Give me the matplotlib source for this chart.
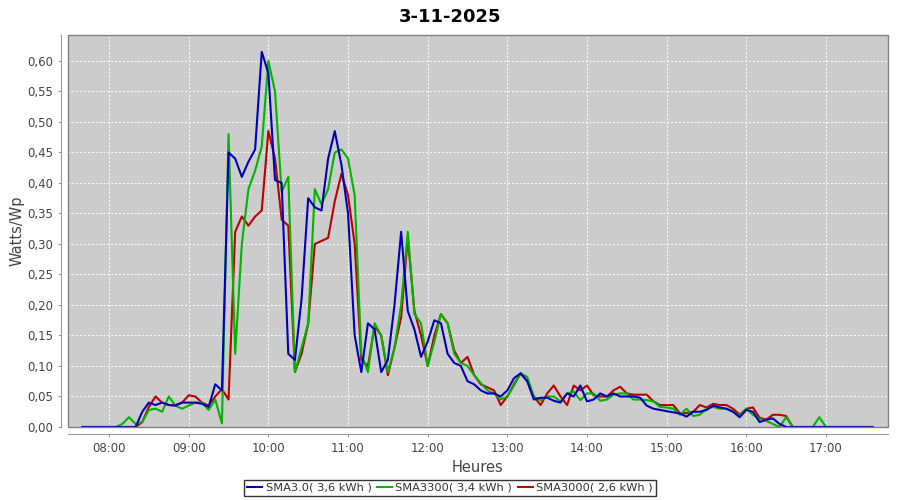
import matplotlib
matplotlib.use("Agg")
import matplotlib.pyplot as plt
import matplotlib.dates as mdates
from matplotlib.patches import Rectangle
from matplotlib.ticker import FuncFormatter, MultipleLocator
import pandas as pd

title = "3-11-2025"
series_names = ["SMA3.0( 3,6 kWh )", "SMA3300( 3,4 kWh )", "SMA3000( 2,6 kWh )"]
series_colors = ["#0000bb", "#00b400", "#bb0000"]

# 5 minute samples, 07:40 -> 17:35
times = pd.date_range("2025-11-03 07:40", "2025-11-03 17:35", freq="5min")

sma30 = [
    0, 0, 0, 0,
    0, 0, 0, 0, 0, 0.025, 0.04, 0.036, 0.04, 0.036, 0.035, 0.04,
    0.04, 0.04, 0.038, 0.033, 0.07, 0.06, 0.45, 0.44, 0.41, 0.435, 0.455, 0.615,
    0.58, 0.405, 0.40, 0.12, 0.11, 0.21, 0.375, 0.36, 0.355, 0.44, 0.485, 0.43,
    0.35, 0.15, 0.09, 0.17, 0.16, 0.09, 0.11, 0.20, 0.32, 0.19, 0.16, 0.115,
    0.14, 0.175, 0.17, 0.12, 0.105, 0.10, 0.075, 0.07, 0.06, 0.055, 0.055, 0.05,
    0.06, 0.08, 0.088, 0.075, 0.045, 0.048, 0.048, 0.043, 0.04, 0.055, 0.05, 0.068,
    0.042, 0.045, 0.055, 0.05, 0.055, 0.05, 0.05, 0.05, 0.048, 0.035, 0.03, 0.028,
    0.026, 0.024, 0.022, 0.017, 0.025, 0.025, 0.028, 0.035, 0.032, 0.03, 0.025, 0.016,
    0.028, 0.025, 0.008, 0.012, 0.014, 0.005, 0, 0, 0, 0, 0, 0,
    0, 0, 0, 0, 0, 0, 0, 0,
]
sma3300 = [
    0, 0, 0, 0,
    0, 0, 0.005, 0.016, 0.005, 0.008, 0.028, 0.03, 0.025, 0.05, 0.035, 0.03,
    0.035, 0.04, 0.04, 0.028, 0.045, 0.006, 0.48, 0.12, 0.30, 0.39, 0.42, 0.46,
    0.60, 0.55, 0.385, 0.41, 0.09, 0.13, 0.17, 0.39, 0.365, 0.39, 0.45, 0.455,
    0.44, 0.38, 0.12, 0.09, 0.17, 0.15, 0.09, 0.13, 0.20, 0.32, 0.185, 0.17,
    0.10, 0.14, 0.185, 0.17, 0.12, 0.105, 0.10, 0.085, 0.072, 0.06, 0.055, 0.045,
    0.05, 0.068, 0.088, 0.082, 0.05, 0.044, 0.05, 0.05, 0.042, 0.055, 0.058, 0.044,
    0.055, 0.055, 0.043, 0.045, 0.053, 0.055, 0.055, 0.045, 0.045, 0.044, 0.042, 0.033,
    0.032, 0.03, 0.02, 0.03, 0.018, 0.02, 0.03, 0.033, 0.03, 0.03, 0.025, 0.018,
    0.03, 0.02, 0.013, 0.01, 0.005, 0, 0.016, 0, 0, 0, 0, 0.016,
    0, 0, 0, 0, 0, 0, 0, 0,
]
sma3000 = [
    0, 0, 0, 0,
    0, 0, 0, 0, 0, 0.008, 0.033, 0.05, 0.04, 0.036, 0.036, 0.04,
    0.052, 0.05, 0.04, 0.035, 0.05, 0.062, 0.045, 0.32, 0.345, 0.33, 0.345, 0.355,
    0.485, 0.44, 0.34, 0.33, 0.09, 0.12, 0.17, 0.30, 0.305, 0.31, 0.37, 0.415,
    0.38, 0.30, 0.11, 0.10, 0.165, 0.15, 0.085, 0.13, 0.18, 0.31, 0.19, 0.15,
    0.10, 0.15, 0.185, 0.17, 0.125, 0.105, 0.115, 0.085, 0.07, 0.065, 0.06, 0.036,
    0.05, 0.07, 0.088, 0.075, 0.05, 0.036, 0.055, 0.068, 0.05, 0.036, 0.068, 0.06,
    0.068, 0.052, 0.05, 0.05, 0.06, 0.066, 0.055, 0.053, 0.053, 0.053, 0.042, 0.036,
    0.036, 0.036, 0.022, 0.023, 0.025, 0.036, 0.032, 0.038, 0.036, 0.036, 0.03, 0.02,
    0.03, 0.032, 0.015, 0.012, 0.02, 0.02, 0.018, 0, 0, 0, 0, 0,
    0, 0, 0, 0, 0, 0, 0, 0,
]

fig = plt.figure(figsize=(9, 5), dpi=100)
ax = fig.add_axes([0.0756, 0.146, 0.911, 0.784])
ax.set_facecolor("#cccccc")

# red drawn first, blue on top (like the original renderer)
values = [sma30, sma3300, sma3000]
lines = []
for i in [2, 1, 0]:
    ln, = ax.plot(times, values[i], color=series_colors[i], lw=1.5,
                  label=series_names[i], zorder=3 + (2 - i))
    lines.append((i, ln))
lines.sort()

ax.set_xlim(pd.Timestamp("2025-11-03 07:29:06"), pd.Timestamp("2025-11-03 17:46:40"))
ax.set_ylim(0, 0.6426)

ax.xaxis.set_major_locator(mdates.HourLocator(byhour=range(8, 18)))
ax.xaxis.set_major_formatter(mdates.DateFormatter("%H:%M"))
ax.yaxis.set_major_locator(MultipleLocator(0.05))
ax.yaxis.set_major_formatter(FuncFormatter(lambda v, p: ("%.2f" % v).replace(".", ",")))

ax.grid(True, color="white", linestyle=(0, (2, 2)), linewidth=0.7)
ax.set_axisbelow(True)

for s in ["top", "right"]:
    ax.spines[s].set_visible(False)
for s in ["left", "bottom"]:
    ax.spines[s].set_position(("outward", 5))
    ax.spines[s].set_color("#999999")
    ax.spines[s].set_linewidth(0.8)
ax.add_patch(Rectangle((0, 0), 1, 1, transform=ax.transAxes, fill=False,
                       edgecolor="#808080", linewidth=1.0, zorder=10, clip_on=False))

ax.tick_params(axis="both", colors="#999999", labelcolor="#444444", labelsize=8.5,
               length=2, width=0.8)

ax.set_xlabel("Heures", fontsize=10.5, color="#444444", labelpad=4)
ax.set_ylabel("Watts/Wp", fontsize=10.5, color="#444444", labelpad=2)
fig.suptitle(title, fontsize=13, fontweight="bold", y=0.985)

leg = fig.legend([l for _, l in lines], [series_names[i] for i, _ in lines],
                 loc="center", bbox_to_anchor=(0.5, 0.024), ncol=3, fontsize=8.2,
                 frameon=True, fancybox=False, handlelength=1.3, handletextpad=0.3,
                 columnspacing=0.5, borderpad=0.3, borderaxespad=0)
leg.get_frame().set_edgecolor("black")
leg.get_frame().set_linewidth(1.0)
for t in leg.get_texts():
    t.set_color("#333333")

fig.savefig("out.png", dpi=100)
